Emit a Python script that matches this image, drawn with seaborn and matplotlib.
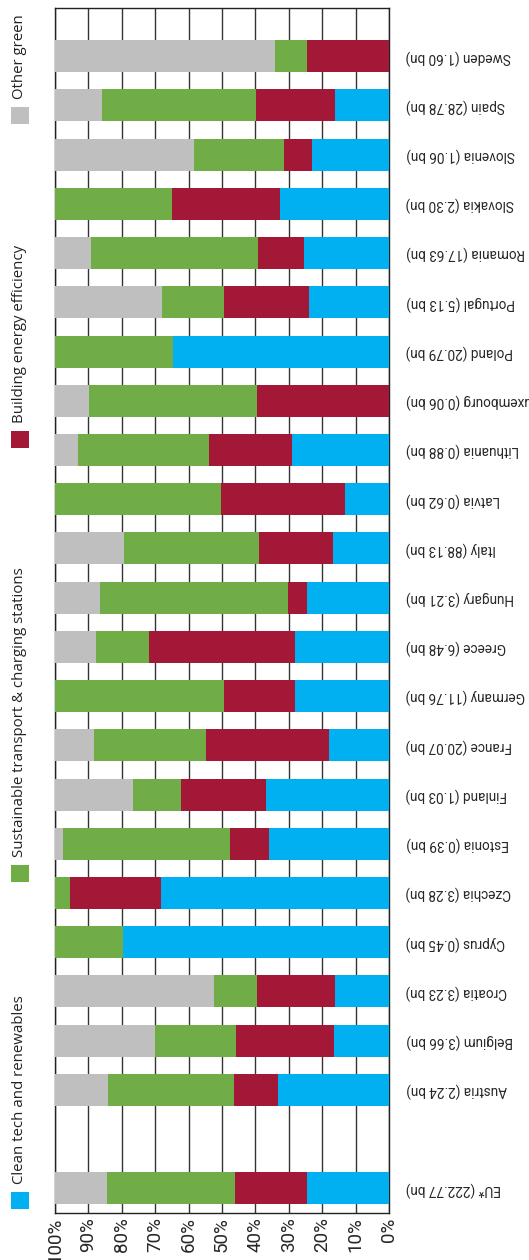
import numpy as np
import pandas as pd
import matplotlib
matplotlib.use("Agg")
import matplotlib.pyplot as plt
import seaborn as sns
from matplotlib.patches import Rectangle

sns.set_style("white")
plt.rcParams['font.family'] = ['Liberation Sans Narrow', 'Roboto', 'DejaVu Sans']

# countries, top to bottom ("" is the empty slot between Austria and EU)
countries = ["Sweden (1.60 bn)", "Spain (28.78 bn)", "Slovenia (1.06 bn)", "Slovakia (2.30 bn)",
             "Romania (17.63 bn)", "Portugal (5.13 bn)", "Poland (20.79 bn)", "Luxembourg (0.06 bn)",
             "Lithuania (0.88 bn)", "Latvia (0.62 bn)", "Italy (88.13 bn)", "Hungary (3.21 bn)",
             "Greece (6.48 bn)", "Germany (11.76 bn)", "France (20.07 bn)", "Finland (1.03 bn)",
             "Estonia (0.39 bn)", "Czechia (3.28 bn)", "Cyprus (0.45 bn)", "Croatia (3.23 bn)",
             "Belgium (3.66 bn)", "Austria (2.24 bn)", "", "EU* (222.77 bn)"]

clean_tech = [0.0, 16.3, 23.0, 32.5, 25.4, 23.9, 64.7, 0.0, 29.0, 13.1, 16.8, 24.6,
              28.1, 28.1, 18.0, 36.7, 35.8, 68.3, 79.5, 16.1, 16.6, 33.1, 0.0, 24.5]
building = [24.6, 23.6, 8.3, 32.6, 13.9, 25.5, 0.0, 39.6, 24.8, 37.1, 22.2, 5.6,
            43.7, 21.3, 36.7, 25.7, 11.8, 27.2, 0.0, 23.5, 29.3, 13.4, 0.0, 21.7]
transport = [9.4, 46.1, 27.2, 34.9, 49.9, 18.6, 35.3, 50.2, 39.3, 49.8, 40.3, 56.4,
             15.9, 50.6, 33.6, 14.2, 49.9, 4.5, 20.5, 12.7, 24.2, 37.7, 0.0, 38.3]
other = [66.0, 14.0, 41.5, 0.0, 10.8, 32.0, 0.0, 10.2, 6.9, 0.0, 20.7, 13.4,
         12.3, 0.0, 11.7, 23.4, 2.5, 0.0, 0.0, 47.7, 29.9, 15.8, 0.0, 15.5]

series = ["Clean tech and renewables", "Building energy efficiency",
          "Sustainable transport & charging stations", "Other green"]
colors = ["#00B0F0", "#A31737", "#70AD47", "#BFBFBF"]

df = pd.DataFrame({"country": countries, "c1": clean_tech, "c2": building,
                   "c3": transport, "c4": other})
df["s1"] = df["c1"]
df["s2"] = df["s1"] + df["c2"]
df["s3"] = df["s2"] + df["c3"]
df["s4"] = df["s3"] + df["c4"]

W, H = 529, 1260
fig = plt.figure(figsize=(W / 100, H / 100), dpi=100)
ax = fig.add_axes([55 / W, 47 / H, (389 - 55) / W, (1213 - 8) / H])

# layered cumulative bars, widest first
for col, c in zip(["s4", "s3", "s2", "s1"], colors[::-1]):
    sns.barplot(data=df, x=col, y="country", order=countries, color=c, saturation=1,
                width=0.65, errorbar=None, linewidth=0, orient="h", ax=ax, zorder=3)

ax.set_xlim(100, 0)
ax.set_ylim(len(countries) - 0.5, -0.98)
ax.set_xticks(np.arange(0, 101, 10))
ax.set_xticklabels([f"{v}%" for v in range(0, 101, 10)], rotation=90, fontsize=13.5)
ax.xaxis.grid(True, color="#333333", linewidth=1.0, zorder=0)
ax.set_axisbelow(True)
ax.set_xlabel("")
ax.set_ylabel("")
ax.tick_params(axis="x", length=0, pad=3)

ax.yaxis.tick_right()
ax.tick_params(axis="y", length=0, pad=12)
for lab in ax.get_yticklabels():
    lab.set_rotation(180)
    lab.set_fontsize(9.8)
    lab.set_ha("left")
    lab.set_va("center")

for sp in ax.spines.values():
    sp.set_visible(True)
    sp.set_color("#222222")
    sp.set_linewidth(1.0)

# legend on the left, rotated
leg_y = [1192, 431, 865, 107]  # square tops in px from top
for name, c, ytop in zip(series, colors, leg_y):
    fig.add_artist(Rectangle((11 / W, (H - ytop - 17) / H), 17.5 / W, 17.5 / H,
                             transform=fig.transFigure, color=c, lw=0))
    fig.text(20 / W, (H - ytop + 8) / H, name, rotation=90, ha="center", va="bottom",
             fontsize=10.8, family=["Open Sans", "DejaVu Sans"], color="#222222")

fig.savefig("out.png", dpi=100)
